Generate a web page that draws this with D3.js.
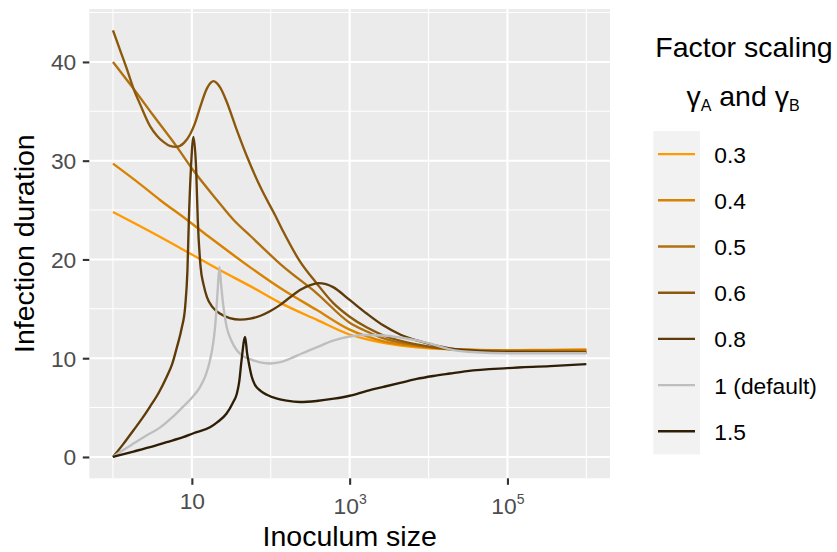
<!DOCTYPE html>
<html>
<head>
<meta charset="utf-8">
<script src="https://cdn.jsdelivr.net/npm/d3@7"></script>
<style>
  html, body { margin: 0; padding: 0; background: #ffffff; }
  svg { display: block; font-family: "Liberation Sans", Arial, Helvetica, sans-serif; }
</style>
</head>
<body>
<svg id="chart" width="837" height="552"></svg>
<script>
// Infection duration versus inoculum size for several scalings of gamma_A and gamma_B.
// Each series is a list of [log10(inoculum size), infection duration] pairs.
const scalingLabels = ["0.3", "0.4", "0.5", "0.6", "0.8", "1 (default)", "1.5"];

const scaling03 = [[0,24.8],[0.5,22.7],[1,20.5],[1.36,18.9],[1.74,17.3],[2.12,15.6],[2.58,13.9],[3,12.4],
  [3.22,11.9],[3.43,11.55],[3.85,11.1],[4.27,10.9],[5,10.8],[5.5,10.85],[6,10.9]];

const scaling04 = [[0,29.7],[0.3,27.9],[0.6,26.0],[0.94,24.0],[1.2,22.4],[1.5,20.6],[1.74,19.2],[2.14,17.0],
  [2.58,14.9],[3,12.9],[3.22,12.2],[3.43,11.7],[3.85,11.2],[4.27,10.95],[5,10.8],[6,10.85]];

const scaling05 = [[0,40.0],[0.26,37.3],[0.5,34.7],[0.81,31.4],[1.02,29.0],[1.32,26.0],[1.53,24.0],[1.74,22.4],
  [2.14,19.4],[2.58,16.6],[3,13.6],[3.22,12.7],[3.43,12.0],[3.85,11.3],[4.27,10.95],[5,10.75],[6,10.75]];

const scaling06 = [[0,43.2],[0.09,41.2],[0.18,39.2],[0.26,37.3],[0.35,35.6],[0.47,33.5],[0.56,32.5],[0.64,31.9],
  [0.72,31.5],[0.80,31.4],[0.9,31.8],[0.98,32.7],[1.04,33.8],[1.1,35.3],[1.19,37.3],[1.24,37.9],[1.275,38.06],
  [1.31,37.9],[1.36,37.4],[1.44,36.0],[1.57,33.1],[1.70,30.4],[1.87,27.3],[2.06,24.4],[2.16,22.8],[2.37,19.8],
  [2.58,17.6],[2.79,15.6],[3.0,14.2],[3.22,13.1],[3.43,12.3],[3.85,11.4],[4.27,10.9],[5,10.65],[6,10.6]];

const scaling08 = [[0,0],[0.13,1.3],[0.26,2.7],[0.37,3.9],[0.47,5.1],[0.58,6.5],[0.68,8.1],[0.75,9.4],[0.81,11.1],
  [0.87,13.0],[0.915,15.2],[0.944,18.9],[0.962,24.0],[0.987,29.0],[1.02,32.4],[1.055,29.0],[1.075,24.0],
  [1.11,19.3],[1.15,17.4],[1.19,16.2],[1.27,15.1],[1.36,14.5],[1.48,14.05],[1.61,13.9],[1.74,14.0],[1.87,14.3],
  [1.99,14.75],[2.12,15.4],[2.25,16.2],[2.37,16.9],[2.5,17.4],[2.6,17.6],[2.7,17.5],[2.79,17.2],[3.0,15.9],
  [3.22,14.5],[3.43,13.3],[3.64,12.4],[3.85,11.8],[4.27,11.0],[4.7,10.7],[5,10.6],[6,10.55]];

const scaling10 = [[0,0],[0.13,0.7],[0.26,1.36],[0.43,2.2],[0.6,3.0],[0.75,4.0],[0.89,5.1],[1.0,6.0],[1.105,7.1],
  [1.18,8.4],[1.23,9.8],[1.27,11.5],[1.295,13.2],[1.325,16.6],[1.35,19.25],[1.37,17.5],[1.39,15.9],[1.44,13.2],
  [1.5,11.8],[1.57,10.8],[1.65,10.2],[1.74,9.9],[1.85,9.6],[1.99,9.46],[2.12,9.6],[2.25,9.97],[2.4,10.5],
  [2.58,11.1],[2.8,11.8],[3.0,12.2],[3.2,12.35],[3.43,12.3],[3.64,12.1],[3.85,11.8],[4.05,11.4],[4.27,10.9],
  [4.6,10.6],[5,10.5],[6,10.5]];

const scaling15 = [[0,0],[0.26,0.55],[0.47,1.0],[0.68,1.5],[0.89,2.0],[1.02,2.4],[1.23,3.0],[1.32,3.5],[1.44,4.4],
  [1.52,5.5],[1.57,6.4],[1.60,7.6],[1.63,9.8],[1.675,12.16],[1.70,10.5],[1.72,9.6],[1.76,8.1],[1.8,7.3],
  [1.87,6.7],[1.95,6.3],[2.08,5.9],[2.2,5.7],[2.37,5.57],[2.58,5.67],[2.8,5.9],[3.0,6.2],[3.22,6.7],[3.43,7.1],
  [3.64,7.5],[3.85,7.9],[4.06,8.2],[4.27,8.45],[4.49,8.7],[5,9.0],[5.54,9.2],[6,9.4]];

const seriesValues = [scaling03, scaling04, scaling05, scaling06, scaling08, scaling10, scaling15];

// Axis breaks
const xMajorTicks = [1, 3, 5];          // exponents of 10
const xMinorTicks = [0, 2, 4, 6];
const yMajorTicks = [0, 10, 20, 30, 40];
const yMinorTicks = [5, 15, 25, 35, 45];

// Styles
const lineColours = ["#FF9A00", "#D78200", "#B0700F", "#8C580C", "#5E3B08", "#BEBEBE", "#2F1E06"];

const svg = d3.select("#chart");
const panel = { left: 89.3, right: 610, top: 9, bottom: 478.3 };

const x = d3.scaleLog()
  .domain([Math.pow(10, -0.3), Math.pow(10, 6.3)])
  .range([panel.left, panel.right]);
const y = d3.scaleLinear()
  .domain([-2.16, 45.36])
  .range([panel.bottom, panel.top]);

// Panel background and grid
svg.append("rect")
  .attr("x", panel.left).attr("y", panel.top)
  .attr("width", panel.right - panel.left).attr("height", panel.bottom - panel.top)
  .attr("fill", "#EBEBEB");

const grid = svg.append("g");
grid.selectAll(".ymin").data(yMinorTicks).join("line")
  .attr("x1", panel.left).attr("x2", panel.right)
  .attr("y1", d => y(d)).attr("y2", d => y(d))
  .attr("stroke", "#ffffff").attr("stroke-width", 1.05);
grid.selectAll(".xmin").data(xMinorTicks).join("line")
  .attr("y1", panel.top).attr("y2", panel.bottom)
  .attr("x1", d => x(Math.pow(10, d))).attr("x2", d => x(Math.pow(10, d)))
  .attr("stroke", "#ffffff").attr("stroke-width", 1.05);
grid.selectAll(".ymaj").data(yMajorTicks).join("line")
  .attr("x1", panel.left).attr("x2", panel.right)
  .attr("y1", d => y(d)).attr("y2", d => y(d))
  .attr("stroke", "#ffffff").attr("stroke-width", 2.1);
grid.selectAll(".xmaj").data(xMajorTicks).join("line")
  .attr("y1", panel.top).attr("y2", panel.bottom)
  .attr("x1", d => x(Math.pow(10, d))).attr("x2", d => x(Math.pow(10, d)))
  .attr("stroke", "#ffffff").attr("stroke-width", 2.1);

// Series lines
const line = d3.line()
  .x(d => x(Math.pow(10, d[0])))
  .y(d => y(d[1]))
  .curve(d3.curveMonotoneX);

svg.append("g")
  .selectAll("path")
  .data(seriesValues)
  .join("path")
  .attr("d", d => line(d))
  .attr("fill", "none")
  .attr("stroke", (d, i) => lineColours[i])
  .attr("stroke-width", 2.35)
  .attr("stroke-linejoin", "round")
  .attr("stroke-linecap", "butt");

// Axes
const tickFont = 22.8;
const yAxis = svg.append("g")
  .attr("transform", `translate(${panel.left},0)`)
  .call(d3.axisLeft(y).tickValues(yMajorTicks).tickSize(6.5).tickPadding(6.5).tickFormat(d3.format("d")));
yAxis.select(".domain").remove();
yAxis.selectAll(".tick line").attr("stroke", "#333333").attr("stroke-width", 2.1);
yAxis.selectAll(".tick text")
  .attr("fill", "#4D4D4D").attr("font-size", tickFont)
  .attr("font-family", "Liberation Sans, Arial, sans-serif")
  .attr("dy", "0.35em");

const xAxis = svg.append("g")
  .attr("transform", `translate(0,${panel.bottom})`)
  .call(d3.axisBottom(x).tickValues(xMajorTicks.map(e => Math.pow(10, e))).tickSize(6.5).tickFormat(() => ""));
xAxis.select(".domain").remove();
xAxis.selectAll(".tick line").attr("stroke", "#333333").attr("stroke-width", 2.1);
xAxis.selectAll(".tick text").remove();
xAxis.selectAll(".tick").each(function(d) {
  const e = Math.round(Math.log10(d));
  const t = d3.select(this).append("text")
    .attr("text-anchor", "middle")
    .attr("fill", "#4D4D4D")
    .attr("font-size", tickFont)
    .attr("font-family", "Liberation Sans, Arial, sans-serif");
  if (e === 1) {
    t.attr("y", 31).text("10");
  } else {
    t.attr("y", 36);
    t.append("tspan").text("10");
    t.append("tspan").attr("font-size", 14).attr("dy", -10).text(String(e));
  }
});

// Axis titles
svg.append("text")
  .attr("x", (panel.left + panel.right) / 2).attr("y", 546)
  .attr("text-anchor", "middle").attr("font-size", 28.5).attr("fill", "#000000")
  .text("Inoculum size");
svg.append("text")
  .attr("transform", `translate(34,${(panel.top + panel.bottom) / 2}) rotate(-90)`)
  .attr("text-anchor", "middle").attr("font-size", 28.5).attr("fill", "#000000")
  .text("Infection duration");

// Legend
const legend = svg.append("g");
const keyTop = 131, keyH = 46.2, keyLeft = 653.3, keyW = 46.7;
legend.append("text")
  .attr("x", 744).attr("y", 56.7)
  .attr("text-anchor", "middle").attr("font-size", 28.5).attr("fill", "#000000")
  .text("Factor scaling");
const sub = legend.append("text")
  .attr("x", 743).attr("y", 106)
  .attr("text-anchor", "middle").attr("font-size", 28.5).attr("fill", "#000000");
sub.append("tspan").text("γ");
sub.append("tspan").attr("font-size", 16).attr("dy", 4.5).text("A");
sub.append("tspan").attr("dy", -4.5).text(" and γ");
sub.append("tspan").attr("font-size", 16).attr("dy", 4.5).text("B");

legend.append("rect")
  .attr("x", keyLeft).attr("y", keyTop)
  .attr("width", keyW).attr("height", keyH * scalingLabels.length)
  .attr("fill", "#F2F2F2");

const items = legend.selectAll(".item")
  .data(scalingLabels)
  .join("g")
  .attr("transform", (d, i) => `translate(0,${keyTop + keyH / 2 + i * keyH})`);
items.append("line")
  .attr("x1", 658).attr("x2", 695).attr("y1", 0).attr("y2", 0)
  .attr("stroke", (d, i) => lineColours[i]).attr("stroke-width", 2.4);
items.append("text")
  .attr("x", 714.3).attr("y", 8.5)
  .attr("font-size", tickFont).attr("fill", "#000000")
  .text(d => d);
</script>
</body>
</html>
